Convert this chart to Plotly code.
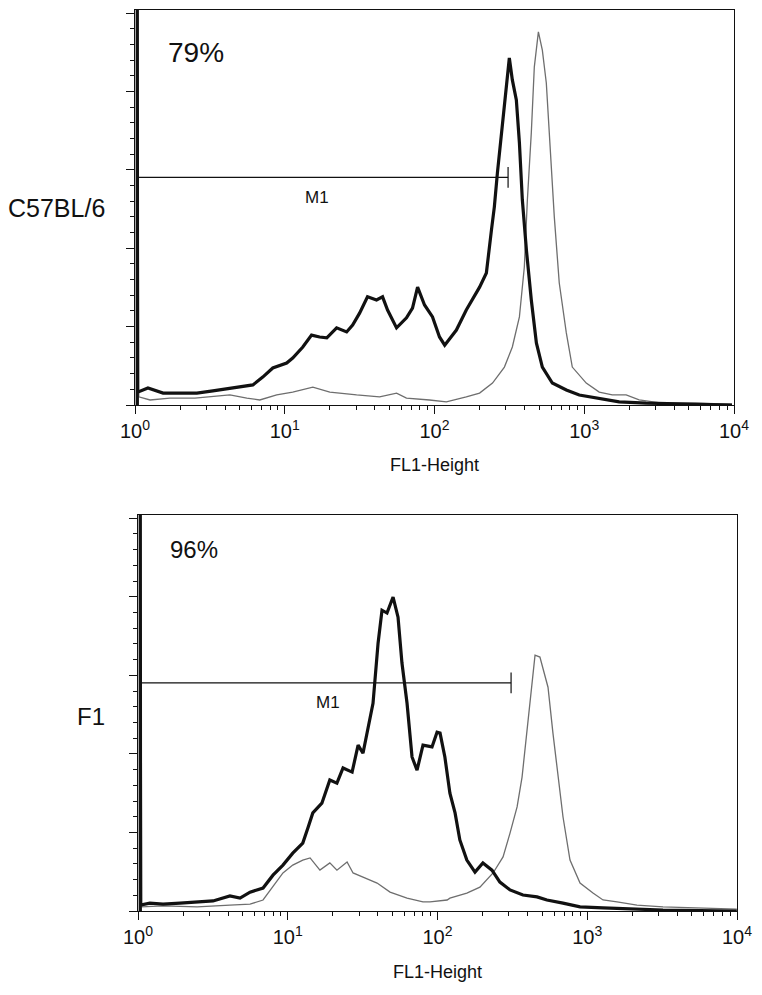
import math
import plotly.graph_objects as go

# ---------------- data ----------------
# Top panel: C57BL/6 (thick = stained sample, thin = control)
top_fl1_sample = [1.035, 1.035, 1.04, 1.22, 1.54, 2.0, 2.59, 3.31, 4.30, 5.25, 6.12, 7.13, 8.32,
                  10.3, 11.3, 13.2, 15.1, 17.1, 19.1, 22.2, 25.9, 28.4, 31.6, 35.7, 41.0, 45.0,
                  48.6, 55.8, 65.0, 71.3, 77.1, 85.8, 97.0, 108, 117, 140, 163, 200, 222, 240,
                  251, 263, 280, 293, 307, 316, 331, 352, 369, 386, 411, 443, 479, 525, 612,
                  759, 926, 1202, 1711, 2590, 4295, 9700]
top_count_sample = [0, 160, 4.1, 5.4, 3.8, 3.8, 3.8, 4.5, 5.4, 6.1, 6.4, 8.9, 11.8,
                    13.4, 15.0, 18.5, 22.3, 21.7, 21.4, 24.6, 23.3, 25.5, 29.3, 34.5, 33.5, 34.5,
                    30.3, 24.6, 27.8, 30.9, 37.6, 31.9, 28.1, 21.7, 19.1, 23.9, 30.3, 37.6, 42.1, 55.8,
                    63.2, 74.0, 86.8, 97.3, 104.6, 110.7, 103.7, 97.3, 83.6, 65.4, 49.4, 33.5, 19.8, 12.1, 7.0,
                    4.8, 3.2, 2.2, 1.0, 0.6, 0.3, 0.0]

top_fl1_control = [1.05, 1.05, 1.06, 1.26, 1.71, 2.51, 4.30, 5.58, 6.81, 8.84, 11.3, 15.4, 20.0,
                   30.2, 43.0, 55.8, 65.0, 92.6, 120, 163, 200, 244, 293, 331, 369, 398, 417,
                   443, 464, 494, 525, 558, 584, 631, 681, 759, 832, 1031, 1259, 1538, 1905,
                   2326, 3311, 5580, 9700]
top_count_control = [0, 75, 2.6, 1.6, 2.2, 2.2, 3.2, 2.2, 1.6, 3.2, 4.1, 5.7, 4.1,
                     3.2, 2.6, 3.8, 2.2, 1.6, 1.0, 2.6, 3.8, 7.0, 12.1, 18.5, 28.1, 44.0, 65.4,
                     86.8, 107.8, 119.0, 113.2, 102.7, 86.8, 60.0, 38.9, 23.0, 12.1, 7.0, 4.1, 3.2, 3.2,
                     1.6, 0.6, 0.6, 0.3]

# Bottom panel: F1
bot_fl1_sample = [1.035, 1.035, 1.04, 1.20, 1.47, 1.91, 2.48, 3.17, 4.11, 4.80, 5.60, 6.84, 7.97,
                  9.29, 10.8, 12.6, 13.7, 14.7, 16.9, 19.1, 21.3, 23.4, 26.9, 29.5, 31.8, 34.4,
                  37.1, 40.1, 42.6, 46.0, 50.5, 54.5, 57.9, 62.6, 67.6, 73.0, 80.0, 91.9, 99.3,
                  104, 112, 121, 131, 141, 157, 178, 201, 231, 261, 305, 372, 462, 538, 689, 895,
                  1274, 1928, 3204, 9970]
bot_count_sample = [0, 160, 1.9, 2.5, 2.2, 2.5, 2.9, 3.2, 4.8, 4.1, 6.0, 7.3, 11.4,
                    14.6, 18.4, 21.6, 26.7, 31.2, 34.3, 41.7, 40.7, 45.5, 44.2, 52.8, 50.2, 58.5,
                    66.1, 85.2, 95.7, 94.8, 99.9, 93.5, 78.9, 66.1, 49.0, 44.8, 52.8, 52.2, 56.9,
                    56.6, 49.0, 37.5, 31.2, 22.6, 16.2, 12.4, 15.3, 13.0, 9.2, 6.7, 5.1, 4.5, 3.5, 2.5, 1.3,
                    1.0, 0.6, 0.3, 0.0]

bot_fl1_control = [1.05, 1.05, 1.06, 1.47, 2.48, 4.11, 5.60, 6.84, 7.97, 9.29, 10.8, 12.6, 14.1,
                   16.4, 19.1, 21.3, 24.9, 27.3, 31.8, 39.5, 48.2, 62.6, 80.0, 89.1, 116, 121,
                   157, 192, 235, 274, 305, 340, 367, 396, 428, 448, 483, 522, 547, 590, 638,
                   689, 767, 895, 1092, 1274, 1581, 2149, 3204, 5408, 9970]
bot_count_control = [0, 67, 1.3, 1.6, 1.3, 1.9, 2.2, 3.5, 7.6, 12.1, 14.6, 16.2, 16.9,
                     13.0, 15.3, 13.0, 15.6, 12.1, 10.8, 8.9, 6.0, 4.1, 2.9, 2.9, 3.5, 4.1,
                     5.7, 7.6, 12.1, 17.2, 24.8, 33.1, 42.6, 56.6, 72.5, 81.4, 80.8, 74.4, 71.2, 56.6, 42.6,
                     29.9, 16.2, 8.9, 5.7, 3.5, 2.9, 1.9, 1.3, 1.0, 0.6]

panel_names = ["C57BL/6", "F1"]
panel_percent = ["79%", "96%"]
gate_name = "M1"
gate_low, gate_high, gate_level, gate_cap = 1.04, 310, 72.6, 3.3
x_tick_vals = [1, 10, 100, 1000, 10000]
x_tick_text = ["10<sup>0</sup>", "10<sup>1</sup>", "10<sup>2</sup>", "10<sup>3</sup>", "10<sup>4</sup>"]
x_title = "FL1-Height"
y_max = 126

# ---------------- figure ----------------
W, H = 762, 995
FONT = "Liberation Sans, Arial, Helvetica, sans-serif"

def px_x(p):
    return p / W

def px_y(p):
    return 1 - p / H

panels = [
    dict(xd=[135, 734], yd=[10, 405], xs=top_fl1_sample, ys=top_count_sample,
         xc=top_fl1_control, yc=top_count_control, name_y=208, name_size=25,
         pct_x=166, pct_y=52, pct_size=28, title_y=465, m1_x=16.5),
    dict(xd=[138, 737], yd=[515, 911], xs=bot_fl1_sample, ys=bot_count_sample,
         xc=bot_fl1_control, yc=bot_count_control, name_y=716, name_size=24,
         pct_x=168, pct_y=549, pct_size=24, title_y=972, m1_x=18.5),
]

minor_x = [m * 10 ** d for d in range(4) for m in range(2, 10)]

fig = go.Figure()
annotations = []
for i, p in enumerate(panels):
    xa = "x" if i == 0 else "x2"
    ya = "y" if i == 0 else "y2"
    fig.add_trace(go.Scatter(x=p["xc"], y=p["yc"], mode="lines", xaxis=xa, yaxis=ya,
                             line=dict(color="#6e6e6e", width=1.3), showlegend=False, hoverinfo="skip"))
    fig.add_trace(go.Scatter(x=p["xs"], y=p["ys"], mode="lines", xaxis=xa, yaxis=ya,
                             line=dict(color="#111111", width=3.2), showlegend=False, hoverinfo="skip"))
    # gate marker
    fig.add_trace(go.Scatter(x=[gate_low, gate_high, None, gate_high, gate_high],
                             y=[gate_level, gate_level, None, gate_level - gate_cap, gate_level + gate_cap],
                             mode="lines", xaxis=xa, yaxis=ya, line=dict(color="#111111", width=1.2),
                             showlegend=False, hoverinfo="skip"))
    # annotation x on a log axis is given in log10 units
    annotations.append(dict(x=math.log10(p["m1_x"]), y=gate_level - 6.4, xref=xa, yref=ya,
                            text=gate_name, showarrow=False,
                            font=dict(family=FONT, size=17, color="#111"),
                            xanchor="center", yanchor="middle"))
    axis_common = dict(showgrid=False, zeroline=False, showline=True, linecolor="#111",
                       linewidth=1, mirror=True, ticks="outside", tickcolor="#111", automargin=False)
    fig.update_layout(**{
        ("xaxis" if i == 0 else "xaxis2"): dict(
            type="log", range=[0, 4], domain=[px_x(p["xd"][0]), px_x(p["xd"][1])],
            anchor=ya, tickvals=x_tick_vals, ticktext=x_tick_text, ticklen=8,
            tickfont=dict(family=FONT, size=20, color="#111"),
            minor=dict(tickvals=minor_x, ticklen=4, ticks="outside", tickcolor="#111", showgrid=False),
            **axis_common),
        ("yaxis" if i == 0 else "yaxis2"): dict(
            range=[0, y_max], domain=[px_y(p["yd"][1]), px_y(p["yd"][0])], anchor=xa,
            tick0=0, dtick=25, ticklen=8, showticklabels=False,
            minor=dict(dtick=5, tick0=0, ticklen=4, ticks="outside", tickcolor="#111", showgrid=False),
            **axis_common),
    })
    annotations.append(dict(x=px_x(107), y=px_y(p["name_y"]), xref="paper", yref="paper",
                            text=panel_names[i], showarrow=False, xanchor="right", yanchor="middle",
                            font=dict(family=FONT, size=p["name_size"], color="#111")))
    annotations.append(dict(x=px_x(p["pct_x"]), y=px_y(p["pct_y"]), xref="paper", yref="paper",
                            text=panel_percent[i], showarrow=False, xanchor="left", yanchor="middle",
                            font=dict(family=FONT, size=p["pct_size"], color="#111")))
    annotations.append(dict(x=px_x((p["xd"][0] + p["xd"][1]) / 2), y=px_y(p["title_y"]),
                            xref="paper", yref="paper", text=x_title, showarrow=False,
                            xanchor="center", yanchor="middle",
                            font=dict(family=FONT, size=18, color="#111")))

fig.update_layout(width=W, height=H, margin=dict(l=0, r=0, t=0, b=0), template="none",
                  paper_bgcolor="white", plot_bgcolor="white", annotations=annotations,
                  showlegend=False)

fig.write_html("out.html", config={"displayModeBar": False},
               post_script="document.body.style.margin='0px';")
